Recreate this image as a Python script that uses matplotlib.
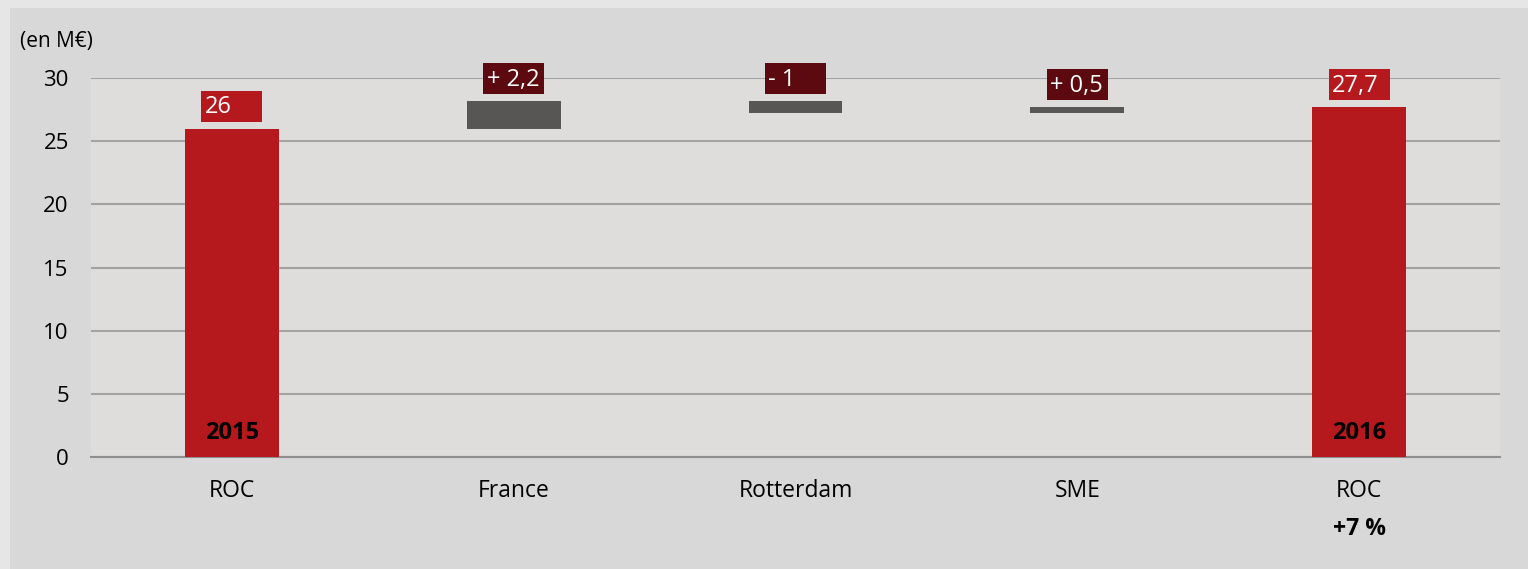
import matplotlib
matplotlib.use("Agg")
import matplotlib.pyplot as plt
from matplotlib.patches import Rectangle

categories = ["ROC", "France", "Rotterdam", "SME", "ROC"]
values = [26, 2.2, -1, 0.5, 27.7]
kinds = ["total", "delta", "delta", "delta", "total"]
value_labels = ["26", "+ 2,2", "- 1", "+ 0,5", "27,7"]
inner_labels = ["2015", "", "", "", "2016"]
yticks = [0, 5, 10, 15, 20, 25, 30]

plt.rcParams['font.family'] = ['Open Sans', 'DejaVu Sans']

W, H = 1528, 569
fig = plt.figure(figsize=(W / 100, H / 100), dpi=100)
fig.patch.set_facecolor('#e6e6e6')
# inner panel
fig.patches.append(Rectangle((10 / W, 0), 1 - 10 / W, 1 - 8 / H, transform=fig.transFigure,
                             facecolor='#d8d8d8', edgecolor='none', zorder=-5))

ax = fig.add_axes([91 / W, (H - 457) / H, (1500 - 91) / W, (457 - 78) / H])
ax.set_facecolor('#dedddc')
ax.set_xlim(-0.5, 4.5)
ax.set_ylim(0, 30)

red = '#b5191e'
dark = '#5c0a0f'
grey = '#575654'
bw = 0.333

running = 0
for i, (v, k) in enumerate(zip(values, kinds)):
    if k == "total":
        bottom, height = 0, v
        running = v
        color = red
    else:
        bottom = running if v >= 0 else running + v
        height = abs(v)
        running = running + v
        color = grey
    ax.bar(i, height, bottom=bottom, width=bw, color=color, zorder=3)
    top = bottom + height
    # label box
    bx_w = 0.2165
    bx_h = 2.45
    bx_y = top + 0.55
    box_col = red if k == "total" else dark
    ax.add_patch(Rectangle((i - bx_w / 2, bx_y), bx_w, bx_h, facecolor=box_col,
                           edgecolor='none', zorder=4, clip_on=False))
    ax.text(i - bx_w / 2 + 0.012, bx_y + bx_h / 2 - 0.1, value_labels[i], color='white',
            fontsize=17, ha='left', va='center', zorder=5, clip_on=False)
    if inner_labels[i]:
        ax.text(i, 1.9, inner_labels[i], color='black', fontsize=17, fontweight='bold',
                ha='center', va='center', zorder=5)

ax.set_yticks(yticks)
ax.set_yticklabels([str(t) for t in yticks], fontsize=16)
ax.yaxis.grid(True, color='#a3a3a3', linewidth=1.5, zorder=1)
ax.set_axisbelow(True)
ax.tick_params(axis='y', length=0, pad=16)
ax.tick_params(axis='x', length=0, pad=16)
ax.set_xticks(range(len(categories)))
ax.set_xticklabels(categories, fontsize=16.5)
for s in ['left', 'right', 'top']:
    ax.spines[s].set_visible(False)
ax.spines['bottom'].set_color('#8f8f8f')
ax.spines['bottom'].set_linewidth(1.5)

ax.text(4, -5.7, "+7 %", fontsize=16.5, fontweight='bold', ha='center', va='center')
fig.text(20 / W, 1 - 41 / H, "(en M€)", fontsize=15, ha='left', va='center')

fig.savefig("out.png", dpi=100, facecolor=fig.get_facecolor())
